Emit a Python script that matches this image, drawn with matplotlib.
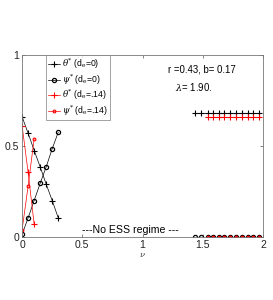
import numpy as np
import matplotlib
matplotlib.use("Agg")
import matplotlib.pyplot as plt

# nu grid, left branch (ESS exists) and right branch
nu_left = [0.0, 0.05, 0.10, 0.15, 0.20, 0.25, 0.30]
theta_d0 = [0.66, 0.57, 0.475, 0.385, 0.29, 0.20, 0.105]
psi_d0 = [0.015, 0.105, 0.20, 0.295, 0.385, 0.485, 0.575]

nu_left_14 = [0.0, 0.05, 0.10]
theta_d14 = [0.61, 0.355, 0.07]
psi_d14 = [0.04, 0.28, 0.54]

nu_right = [1.44, 1.49, 1.54, 1.585, 1.635, 1.68, 1.73, 1.78, 1.825, 1.875, 1.92, 1.97]
theta_d0_r = [0.68] * len(nu_right)
psi_d0_r = [0.0] * len(nu_right)

nu_right_14 = [1.54, 1.585, 1.635, 1.68, 1.73, 1.78, 1.825, 1.875, 1.92, 1.97]
theta_d14_r = [0.658] * len(nu_right_14)
psi_d14_r = [0.0] * len(nu_right_14)

labels = [r"$\theta^{*}$ (d$_{\rm e}$=0)", r"$\psi^{*}$ (d$_{\rm e}$=0)",
          r"$\theta^{*}$ (d$_{\rm e}$=.14)", r"$\psi^{*}$ (d$_{\rm e}$=.14)"]

plt.rcParams['font.family'] = ['Liberation Sans', 'DejaVu Sans']
plt.rcParams['mathtext.fontset'] = 'dejavuserif'

fig = plt.figure(figsize=(2.73, 3.0), dpi=100)
ax = fig.add_axes([0.081, 0.21, 0.882, 0.607])

lw = 0.5
ax.plot(nu_left, theta_d0, '-+', color='k', lw=lw, ms=4, mew=0.8, label=labels[0])
ax.plot(nu_left, psi_d0, '-o', color='k', lw=lw, ms=3, mew=0.9, mfc='none', label=labels[1])
ax.plot(nu_left_14, theta_d14, '-+', color='r', lw=lw, ms=4, mew=0.8, label=labels[2])
ax.plot(nu_left_14, psi_d14, '-o', color='r', lw=lw, ms=2, mew=0.8, mfc='none', label=labels[3])

ax.plot(nu_right, theta_d0_r, '-+', color='k', lw=lw, ms=4, mew=0.8)
ax.plot(nu_right, psi_d0_r, '-o', color='k', lw=lw, ms=3, mew=0.9, mfc='none')
ax.plot(nu_right_14, theta_d14_r, '-+', color='r', lw=lw, ms=4, mew=0.8)
ax.plot(nu_right_14, psi_d14_r, 'o', color='r', ms=2.2, mew=0.5, mfc='r')

ax.set_xlim(0, 2)
ax.set_ylim(0, 1)
ax.set_xticks([0, 0.5, 1, 1.5, 2])
ax.set_xticklabels(['0', '0.5', '1', '1.5', '2'])
ax.set_yticks([0, 0.5, 1])
ax.set_yticklabels(['0', '0.5', '1'])
ax.tick_params(direction='in', length=2.5, width=0.5, labelsize=7.5, top=True, right=True,
               colors='#555555', labelcolor='#222222', pad=2)
for s in ax.spines.values():
    s.set_linewidth(0.6)
    s.set_color('#777777')
ax.set_xlabel(r"$\nu$", fontsize=6, labelpad=1, color='#444444')

ax.text(1.21, 0.918, "r =0.43, b= 0.17", fontsize=6.9, ha='left', va='center')
ax.text(1.27, 0.826, r"$\lambda$= 1.90.", fontsize=6.9, ha='left', va='center')
ax.text(0.50, 0.04, "---No ESS regime ---", fontsize=7.6, ha='left', va='center')

leg = ax.legend(loc='upper left', bbox_to_anchor=(0.1, 1.0), fontsize=6.2, frameon=True,
                fancybox=False, edgecolor='#777777', handlelength=1.3, handletextpad=0.3,
                borderpad=0.25, labelspacing=0.12, borderaxespad=0)
leg.get_frame().set_linewidth(0.6)

fig.savefig("out.png", dpi=100)
